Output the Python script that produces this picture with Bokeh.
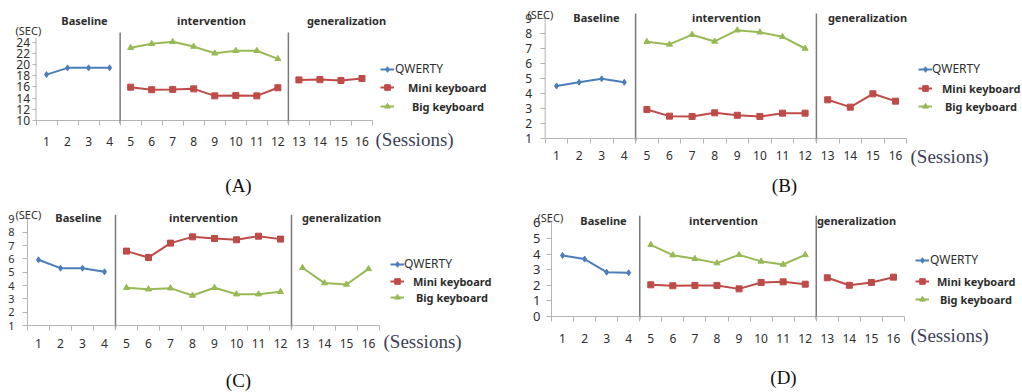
from bokeh.plotting import figure
from bokeh.models import FixedTicker, Label, Legend, LegendItem, Range1d
from bokeh.layouts import row, column
from bokeh.embed import file_html
from bokeh.resources import INLINE

# ---------------- data ----------------
sessions_base = [1, 2, 3, 4]
sessions_int = [5, 6, 7, 8, 9, 10, 11, 12]
sessions_gen = [13, 14, 15, 16]
x_ticks = list(range(1, 17))
x_boundaries = [i + 0.5 for i in range(0, 17)]
phase_breaks = [4.5, 12.5]

series_names = ["QWERTY", "Mini keyboard", "Big keyboard"]
phase_names = ["Baseline", "intervention", "generalization"]
captions = ["(A)", "(B)", "(C)", "(D)"]

a_qwerty = [18.2, 19.4, 19.4, 19.4]
a_mini = [15.95, 15.5, 15.55, 15.65, 14.4, 14.45, 14.4, 15.85]
a_big = [23.0, 23.7, 24.05, 23.2, 22.0, 22.45, 22.45, 21.0]
a_gen_mini = [17.25, 17.3, 17.15, 17.5]
a_y_ticks = [10, 12, 14, 16, 18, 20, 22, 24]

b_qwerty = [4.5, 4.75, 4.98, 4.75]
b_mini = [2.93, 2.49, 2.47, 2.71, 2.55, 2.47, 2.69, 2.69]
b_big = [7.45, 7.27, 7.92, 7.47, 8.22, 8.08, 7.78, 7.0]
b_gen_mini = [3.58, 3.09, 3.98, 3.49]
b_y_ticks = [1, 2, 3, 4, 5, 6, 7, 8, 9]

c_qwerty = [5.93, 5.3, 5.3, 5.03]
c_mini = [6.58, 6.1, 7.18, 7.65, 7.53, 7.43, 7.7, 7.48]
c_big = [3.83, 3.72, 3.8, 3.25, 3.83, 3.35, 3.35, 3.53]
c_gen_big = [5.33, 4.18, 4.08, 5.25]
c_y_ticks = [1, 2, 3, 4, 5, 6, 7, 8, 9]

d_qwerty = [3.91, 3.68, 2.84, 2.8]
d_mini = [2.03, 1.97, 1.99, 1.99, 1.77, 2.18, 2.22, 2.07]
d_big = [4.59, 3.93, 3.7, 3.42, 3.95, 3.53, 3.33, 3.95]
d_gen_mini = [2.48, 2.0, 2.18, 2.52]
d_y_ticks = [0, 1, 2, 3, 4, 5, 6]

# ---------------- styles ----------------
BLUE = "#4a7ebb"
RED = "#be4b48"
GREEN = "#98b954"
TXT = "#2e2e2e"
AXIS = "#b4b4b4"
PHASE = "#7a7a7a"
SANS = "Noto Sans"
FW, FH = 511, 196

panels = [
    dict(fx=0, fy=0, xl=35.5, xr=372.0, yb=120, ppu=5.6, y0=10, ax_top=24.8, ph_top=25.7,
         ticks=a_y_ticks, q=a_qwerty, m=a_mini, b=a_big, gen=a_gen_mini, gen_kind="m",
         ytick_font="12px", ystand=2, ytick_out=4, xstand=11,
         sec=(15, 30), phases=[(84, 20), (211, 20), (346, 20)],
         legend=[(380, 69, 1), (380, 87, 14), (380, 106, 18)],
         sessions=(375, 139), cap=(238, 185)),
    dict(fx=511, fy=0, xl=544.7, xr=906.3, yb=138, ppu=15.0, y0=1, ax_top=9.0, ph_top=9.33,
         ticks=b_y_ticks, q=b_qwerty, m=b_mini, b=b_big, gen=b_gen_mini, gen_kind="m",
         ytick_font="12px", ystand=8, ytick_out=5, xstand=7,
         sec=(527, 14), phases=[(596, 17), (726, 17), (867, 17)],
         legend=[(918, 69, 0), (918, 88, 10), (918, 106, 13)],
         sessions=(910, 156), cap=(784, 185)),
    dict(fx=0, fy=196, xl=27.0, xr=379.0, yb=325, ppu=13.33, y0=1, ax_top=9.0, ph_top=9.3,
         ticks=c_y_ticks, q=c_qwerty, m=c_mini, b=c_big, gen=c_gen_big, gen_kind="b",
         ytick_font="11px", ystand=8, ytick_out=5, xstand=8,
         sec=(15, 214), phases=[(78, 217), (203, 217), (341, 217)],
         legend=[(390, 264, 0), (390, 281, 9), (390, 297, 12)],
         sessions=(383, 341), cap=(238, 380)),
    dict(fx=511, fy=196, xl=551.0, xr=904.0, yb=316, ppu=15.61, y0=0, ax_top=6.0, ph_top=6.45,
         ticks=d_y_ticks, q=d_qwerty, m=d_mini, b=d_big, gen=d_gen_mini, gen_kind="m",
         ytick_font="13px", ystand=6, ytick_out=5, xstand=12,
         sec=(537, 217), phases=[(603, 220), (723, 220), (856, 220)],
         legend=[(915, 260, 1), (915, 281, 8), (915, 299, 11)],
         sessions=(910, 335), cap=(783, 377)),
]


def make_panel(cfg, caption):
    kx = (cfg["xr"] - cfg["xl"]) / 16.0
    ppu = cfg["ppu"]
    x_start = 0.5 - (cfg["xl"] - cfg["fx"]) / kx
    x_end = 16.5 + (cfg["fx"] + FW - cfg["xr"]) / kx
    y_start = cfg["y0"] - (cfg["fy"] + FH - cfg["yb"]) / ppu
    y_end = cfg["y0"] + (cfg["yb"] - cfg["fy"]) / ppu

    def dx(px):
        return 0.5 + (px - cfg["xl"]) / kx

    def dy(py):
        return cfg["y0"] + (cfg["yb"] - py) / ppu

    p = figure(width=FW, height=FH,
               x_range=Range1d(x_start, x_end), y_range=Range1d(y_start, y_end),
               output_backend="svg", toolbar_location=None,
               min_border=0, min_border_left=0, min_border_right=0,
               min_border_top=0, min_border_bottom=0,
               outline_line_color=None, background_fill_color="white",
               border_fill_color="white")
    p.grid.visible = False

    xa = p.xaxis[0]
    xa.fixed_location = cfg["y0"]
    xa.ticker = FixedTicker(ticks=x_ticks, minor_ticks=x_boundaries)
    xa.major_tick_out = 0
    xa.major_tick_in = 0
    xa.minor_tick_out = 5
    xa.minor_tick_in = 0
    xa.axis_line_color = None
    xa.minor_tick_line_color = AXIS
    xa.major_label_text_font = SANS
    xa.major_label_text_font_size = "12px"
    xa.major_label_text_color = TXT
    xa.major_label_standoff = cfg["xstand"]

    ya = p.yaxis[0]
    ya.fixed_location = 0.5
    ya.ticker = FixedTicker(ticks=cfg["ticks"], minor_ticks=[])
    ya.major_tick_out = cfg["ytick_out"]
    ya.major_tick_in = 0
    ya.minor_tick_out = 0
    ya.minor_tick_in = 0
    ya.axis_line_color = None
    ya.major_tick_line_color = AXIS
    ya.major_label_text_font = SANS
    ya.major_label_text_font_size = cfg["ytick_font"]
    ya.major_label_text_color = TXT
    ya.major_label_standoff = cfg["ystand"]

    # axis lines limited to the plotted region
    p.segment(x0=[0.5, 0.5], y0=[cfg["y0"], cfg["y0"]], x1=[16.5, 0.5],
              y1=[cfg["y0"], cfg["ax_top"]], line_color=AXIS, line_width=1)
    # phase-change lines
    ph_bottom = cfg["y0"] - 3.0 / ppu
    p.segment(x0=phase_breaks, y0=[ph_bottom] * 2, x1=phase_breaks,
              y1=[cfg["ph_top"]] * 2, line_color=PHASE, line_width=1.5)

    lq = p.line(sessions_base, cfg["q"], line_color=BLUE, line_width=2)
    sq = p.scatter(sessions_base, cfg["q"], marker="diamond", size=6, color=BLUE)
    lm = p.line(sessions_int, cfg["m"], line_color=RED, line_width=2)
    sm = p.scatter(sessions_int, cfg["m"], marker="square", size=6, color=RED)
    lb = p.line(sessions_int, cfg["b"], line_color=GREEN, line_width=2)
    sb = p.scatter(sessions_int, cfg["b"], marker="triangle", size=6, color=GREEN)
    if cfg["gen_kind"] == "m":
        p.line(sessions_gen, cfg["gen"], line_color=RED, line_width=2)
        p.scatter(sessions_gen, cfg["gen"], marker="square", size=6, color=RED)
    else:
        p.line(sessions_gen, cfg["gen"], line_color=GREEN, line_width=2)
        p.scatter(sessions_gen, cfg["gen"], marker="triangle", size=6, color=GREEN)

    # legends (one per entry to control each text offset / weight)
    rends = [[lq, sq], [lm, sm], [lb, sb]]
    for i, (gx, cy, stand) in enumerate(cfg["legend"]):
        h = 16
        lg = Legend(items=[LegendItem(label=series_names[i], renderers=rends[i])],
                    location=(gx - cfg["fx"], cfg["fy"] + FH - (cy + h / 2)),
                    glyph_width=14, glyph_height=h, label_height=h, label_width=10,
                    label_standoff=stand, padding=0, margin=0, spacing=0,
                    border_line_color=None, background_fill_alpha=0,
                    label_text_font=SANS,
                    label_text_font_size="12px" if i == 0 else "11px",
                    label_text_font_style="normal" if i == 0 else "bold",
                    label_text_color=TXT)
        p.add_layout(lg, "center")

    for name, (px, py) in zip(phase_names, cfg["phases"]):
        p.add_layout(Label(x=dx(px), y=dy(py), text=name, text_align="center",
                           text_baseline="middle", text_font=SANS,
                           text_font_size="11px", text_font_style="bold",
                           text_color=TXT))
    sx, sy = cfg["sec"]
    p.add_layout(Label(x=dx(sx), y=dy(sy), text="(SEC)", text_align="left",
                       text_baseline="middle", text_font=SANS, text_font_size="11px",
                       text_color=TXT))
    tx, ty = cfg["sessions"]
    p.add_layout(Label(x=dx(tx), y=dy(ty), text="(Sessions)", text_align="left",
                       text_baseline="middle", text_font="Liberation Serif",
                       text_font_size="19px", text_color="#3c3f58"))
    cx, cy = cfg["cap"]
    p.add_layout(Label(x=dx(cx), y=dy(cy), text=caption, text_align="center",
                       text_baseline="middle", text_font="Liberation Serif",
                       text_font_size="19px", text_color="#111111"))
    return p


figs = [make_panel(cfg, cap) for cfg, cap in zip(panels, captions)]
layout = column(row(figs[0], figs[1], spacing=0), row(figs[2], figs[3], spacing=0), spacing=0)

open("out.html", "w").write(file_html(layout, INLINE))
